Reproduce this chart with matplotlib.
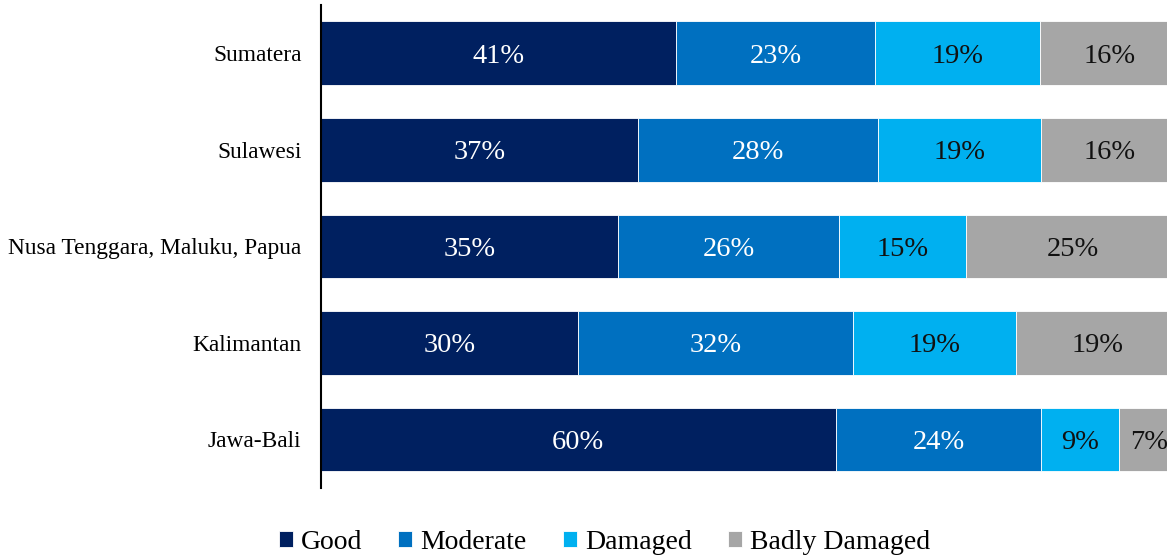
import matplotlib
matplotlib.use("Agg")
import matplotlib.pyplot as plt
import numpy as np

# road condition share by island group (percent)
regions = ["Jawa-Bali", "Kalimantan", "Nusa Tenggara, Maluku, Papua", "Sulawesi", "Sumatera"]
good = [60, 30, 35, 37, 41]
moderate = [24, 32, 26, 28, 23]
damaged = [9, 19, 15, 19, 19]
badly_damaged = [7, 19, 25, 16, 16]

series = [("Good", good, "#002060", "white"),
          ("Moderate", moderate, "#0070C0", "white"),
          ("Damaged", damaged, "#00B0F0", "#111111"),
          ("Badly Damaged", badly_damaged, "#A6A6A6", "#111111")]

plt.rcParams['font.family'] = ['Liberation Serif', 'DejaVu Serif']

fig = plt.figure(figsize=(11.67, 5.6), dpi=100)
ax = fig.add_axes([0.275, 0.129, 0.735, 0.862])

totals = np.sum([s[1] for s in series], axis=0)
y = np.arange(len(regions))
left = np.zeros(len(regions))
for name, vals, color, tcolor in series:
    vals = np.array(vals, dtype=float)
    width = vals / totals * 100
    ax.barh(y, width, left=left, height=0.66, color=color, label=name,
            edgecolor="white", linewidth=0.6)
    for yi, l, w, v in zip(y, left, width, vals):
        ax.text(l + w / 2, yi - 0.03, f"{v:.0f}%", ha="center", va="center",
                color=tcolor, fontsize=20.5)
    left += width

ax.set_xlim(0, 100)
ax.set_ylim(-0.5, 4.5)
ax.set_yticks(y)
ax.set_yticklabels(regions, fontsize=16.8)
ax.tick_params(axis="y", length=0, pad=14)
ax.set_xticks([])
for side in ["top", "right", "bottom"]:
    ax.spines[side].set_visible(False)
ax.spines["left"].set_linewidth(1.5)

fig.legend(loc="center", bbox_to_anchor=(0.518, 0.031), ncol=4, frameon=False,
           fontsize=20, handlelength=0.5, handleheight=0.5, handletextpad=0.3,
           columnspacing=1.3)

fig.savefig("out.png", dpi=100)
